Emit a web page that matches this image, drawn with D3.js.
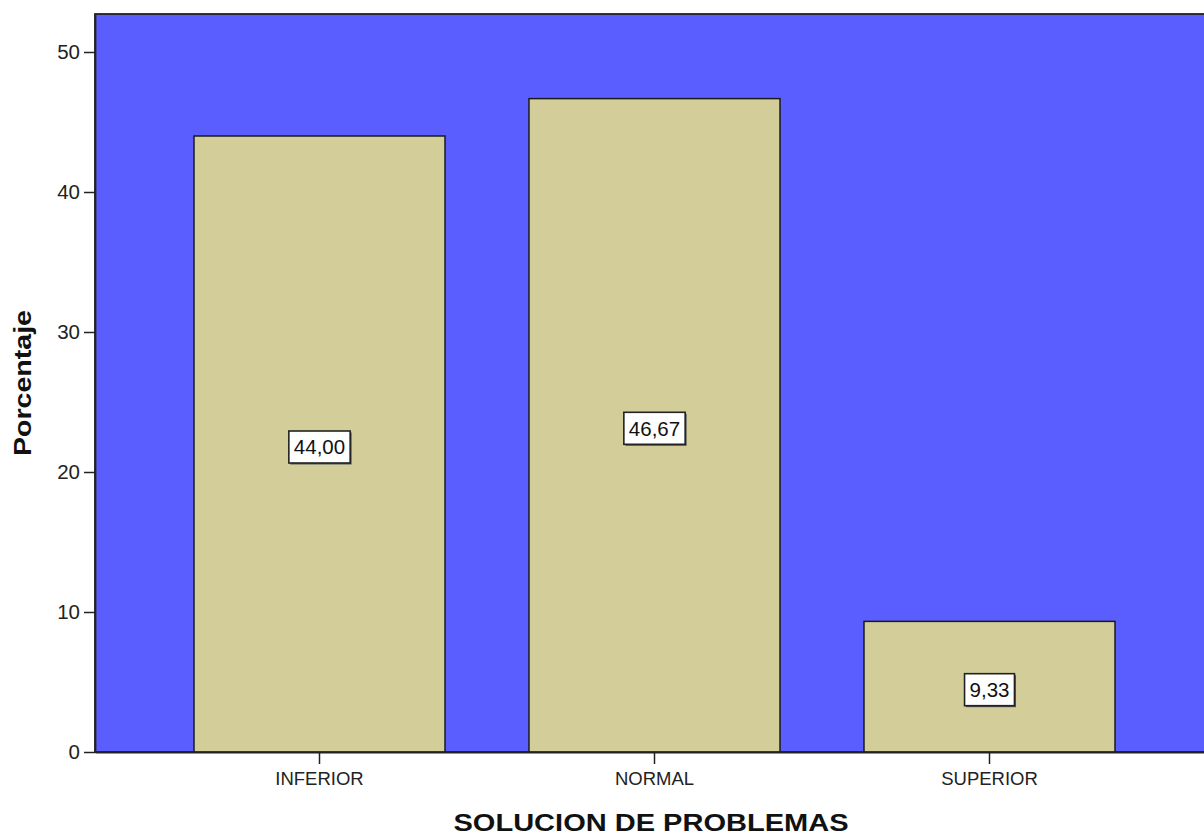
<!DOCTYPE html>
<html>
<head>
<meta charset="utf-8">
<script src="https://cdn.jsdelivr.net/npm/d3@7"></script>
<style>
  html, body { margin: 0; padding: 0; background: #ffffff; }
  svg { display: block; }
  text { font-family: Arial, "Liberation Sans", sans-serif; }
</style>
</head>
<body>
<svg id="chart" width="1204" height="838"></svg>
<script>
const categories = ["INFERIOR", "NORMAL", "SUPERIOR"];
const percentages = [44.00, 46.67, 9.33];
const valueLabels = ["44,00", "46,67", "9,33"];
const yTicks = [0, 10, 20, 30, 40, 50];
const xTitle = "SOLUCION DE PROBLEMAS";
const yTitle = "Porcentaje";

const svg = d3.select("#chart");
const plot = { left: 95, top: 14, right: 1214, bottom: 752 };

const x = d3.scaleBand()
  .domain(categories)
  .range([plot.left, plot.right])
  .paddingInner(0.2507)
  .paddingOuter(0.2955);

const y = d3.scaleLinear()
  .domain([0, 52.714])
  .range([plot.bottom, plot.top]);

// plot background
svg.append("rect")
  .attr("x", plot.left)
  .attr("y", plot.top)
  .attr("width", plot.right - plot.left)
  .attr("height", plot.bottom - plot.top)
  .attr("fill", "#5B5EFF")
  .attr("stroke", "#222")
  .attr("stroke-width", 1.8);

// bars
svg.selectAll("rect.bar")
  .data(categories)
  .join("rect")
  .attr("class", "bar")
  .attr("x", d => x(d))
  .attr("y", (d, i) => y(percentages[i]))
  .attr("width", x.bandwidth())
  .attr("height", (d, i) => y(0) - y(percentages[i]))
  .attr("fill", "#D3CE99")
  .attr("stroke", "#1a1a1a")
  .attr("stroke-width", 1.5);

// y axis
const yAxis = d3.axisLeft(y).tickValues(yTicks).tickSize(11).tickSizeOuter(0).tickPadding(4).tickFormat(d3.format("d"));
const gy = svg.append("g").attr("transform", `translate(${plot.left},0)`).call(yAxis);
gy.select(".domain").attr("stroke", "#222").attr("stroke-width", 1.8);
gy.selectAll(".tick line").attr("stroke", "#222").attr("stroke-width", 1.5);
gy.selectAll(".tick text").attr("font-size", 20.5).attr("fill", "#222")
  .attr("font-family", "Arial, 'Liberation Sans', sans-serif");

// x axis
const xAxis = d3.axisBottom(x).tickSize(12).tickPadding(8).tickSizeOuter(0);
const gx = svg.append("g").attr("transform", `translate(0,${plot.bottom})`).call(xAxis);
gx.select(".domain").attr("stroke", "#222").attr("stroke-width", 1.8);
gx.selectAll(".tick line").attr("stroke", "#222").attr("stroke-width", 1.5);
gx.selectAll(".tick text").attr("font-size", 18.5).attr("fill", "#222")
  .attr("font-family", "Arial, 'Liberation Sans', sans-serif");

// value labels
const lbl = svg.selectAll("g.vlabel")
  .data(categories)
  .join("g")
  .attr("class", "vlabel")
  .attr("transform", (d, i) => `translate(${x(d) + x.bandwidth() / 2},${y(percentages[i] / 2) + 3})`);

lbl.each(function(d, i) {
  const g = d3.select(this);
  const t = g.append("text")
    .attr("text-anchor", "middle")
    .attr("dy", "0.36em")
    .attr("font-size", 20.5)
    .attr("fill", "#111")
    .text(valueLabels[i]);
  const w = t.node().getComputedTextLength() + 10;
  g.insert("rect", "text")
    .attr("x", -w / 2 + 1.5)
    .attr("y", -16 + 1.5)
    .attr("width", w)
    .attr("height", 32)
    .attr("fill", "#555");
  g.insert("rect", "text")
    .attr("x", -w / 2)
    .attr("y", -16)
    .attr("width", w)
    .attr("height", 32)
    .attr("fill", "#ffffff")
    .attr("stroke", "#222")
    .attr("stroke-width", 1.6);
});

// axis titles
svg.append("text")
  .attr("x", 651)
  .attr("y", 831)
  .attr("text-anchor", "middle")
  .attr("font-size", 24)
  .attr("font-weight", "bold")
  .attr("fill", "#111")
  .attr("textLength", 395)
  .attr("lengthAdjust", "spacingAndGlyphs")
  .text(xTitle);

svg.append("text")
  .attr("transform", `translate(31,${(plot.top + plot.bottom) / 2}) rotate(-90)`)
  .attr("text-anchor", "middle")
  .attr("font-size", 24)
  .attr("font-weight", "bold")
  .attr("fill", "#111")
  .attr("textLength", 146)
  .attr("lengthAdjust", "spacingAndGlyphs")
  .text(yTitle);
</script>
</body>
</html>
